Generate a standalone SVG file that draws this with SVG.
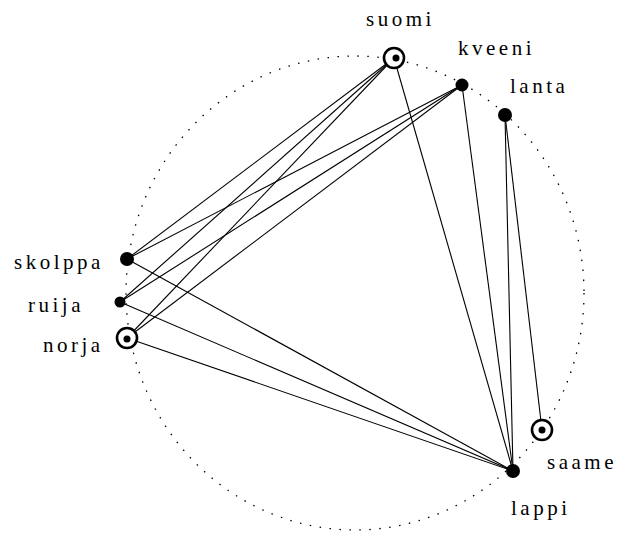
<svg xmlns="http://www.w3.org/2000/svg" width="623" height="533" viewBox="0 0 623 533">
<style>
.lbl{font-family:"Liberation Serif","Times New Roman",serif;font-size:21px;letter-spacing:3.5px;fill:#000}
.e{stroke:#000;stroke-width:1.1;fill:none}
.dot{fill:#000}
.ring{fill:#fff;stroke:#000;stroke-width:2.6}
</style>
<rect width="623" height="533" fill="#fff"/>
<ellipse cx="355" cy="293" rx="229" ry="237" fill="none" stroke="#000" stroke-width="1.3" stroke-dasharray="1.5 8.5"/>
<g id="connectors">
<line class="e" x1="394" y1="58" x2="127" y2="259"/>
<line class="e" x1="394" y1="58" x2="120" y2="302"/>
<line class="e" x1="394" y1="58" x2="127" y2="338"/>
<line class="e" x1="394" y1="58" x2="513" y2="471"/>
<line class="e" x1="462" y1="85" x2="127" y2="259"/>
<line class="e" x1="462" y1="85" x2="120" y2="302"/>
<line class="e" x1="462" y1="85" x2="127" y2="338"/>
<line class="e" x1="462" y1="85" x2="513" y2="471"/>
<line class="e" x1="505" y1="115" x2="513" y2="471"/>
<line class="e" x1="505" y1="115" x2="542" y2="430"/>
<line class="e" x1="127" y1="259" x2="513" y2="471"/>
<line class="e" x1="120" y1="302" x2="513" y2="471"/>
<line class="e" x1="127" y1="338" x2="513" y2="471"/>
</g>
<g id="suomi"><circle class="ring" cx="394" cy="58" r="10"/><circle class="dot" cx="396" cy="58" r="3.5"/><text class="lbl" x="366" y="26">suomi</text></g>
<g id="kveeni"><circle class="dot" cx="462" cy="85" r="6.5"/><text class="lbl" x="458" y="55">kveeni</text></g>
<g id="lanta"><circle class="dot" cx="505" cy="115" r="7"/><text class="lbl" x="510" y="93">lanta</text></g>
<g id="skolppa"><circle class="dot" cx="127" cy="259" r="7"/><text class="lbl" x="14" y="269">skolppa</text></g>
<g id="ruija"><circle class="dot" cx="120" cy="302" r="5.5"/><text class="lbl" x="28" y="312">ruija</text></g>
<g id="norja"><circle class="ring" cx="127" cy="338" r="10"/><circle class="dot" cx="127" cy="339" r="3.5"/><text class="lbl" x="43" y="352">norja</text></g>
<g id="saame"><circle class="ring" cx="542" cy="430" r="10"/><circle class="dot" cx="542" cy="430" r="3.5"/><text class="lbl" x="547" y="469">saame</text></g>
<g id="lappi"><circle class="dot" cx="513" cy="471" r="7"/><text class="lbl" x="511" y="515">lappi</text></g>
</svg>
